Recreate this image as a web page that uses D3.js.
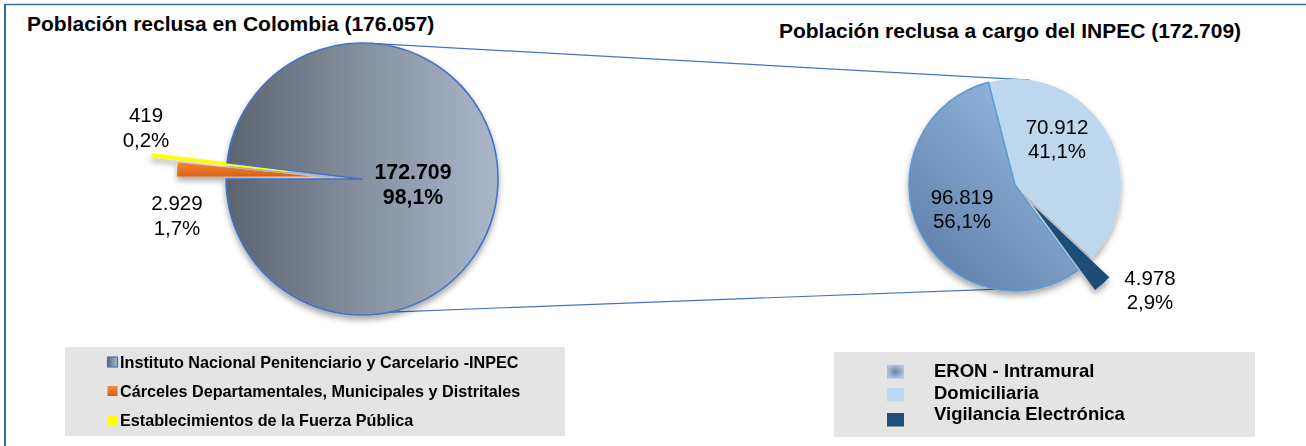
<!DOCTYPE html>
<html>
<head>
<meta charset="utf-8">
<script src="https://cdn.jsdelivr.net/npm/d3@7"></script>
<style>
  body { margin: 0; background: #fff; }
  svg { display: block; font-family: "Liberation Sans", Arial, sans-serif; }
</style>
</head>
<body>
<svg id="chart" width="1306" height="446"></svg>
<script>
// data
var leftCategories = ["Cárceles Departamentales, Municipales y Distritales", "Establecimientos de la Fuerza Pública", "Instituto Nacional Penitenciario y Carcelario -INPEC"];
var leftValues = [2929, 419, 172709];
var leftTotal = 176057;

var rightCategories = ["Domiciliaria", "Vigilancia Electrónica", "ERON - Intramural"];
var rightValues = [70912, 4978, 96819];
var rightTotal = 172709;

var leftLegendOrder = [2, 0, 1];
var rightLegendOrder = [2, 0, 1];

var es = d3.formatLocale({decimal: ",", thousands: ".", grouping: [3], currency: ["$", ""]});
var fmtNum = es.format(",d"),
    fmtPct = es.format(".1%");

var svg = d3.select("#chart");
var defs = svg.append("defs");

var rad = Math.PI / 180;

// gradients
var g1 = defs.append("linearGradient").attr("id", "gInpec")
  .attr("x1", "0").attr("y1", "0").attr("x2", "1").attr("y2", "0");
g1.append("stop").attr("offset", "0").attr("stop-color", "#5c6370");
g1.append("stop").attr("offset", "0.5").attr("stop-color", "#8590a0");
g1.append("stop").attr("offset", "1").attr("stop-color", "#aab7ca");

var g2 = defs.append("linearGradient").attr("id", "gEron")
  .attr("x1", "0.15").attr("y1", "0.95").attr("x2", "0.8").attr("y2", "0.15");
g2.append("stop").attr("offset", "0").attr("stop-color", "#5f7fa8");
g2.append("stop").attr("offset", "1").attr("stop-color", "#93b6dc");

var g3 = defs.append("linearGradient").attr("id", "gOrange")
  .attr("x1", "0").attr("y1", "0").attr("x2", "0").attr("y2", "1");
g3.append("stop").attr("offset", "0").attr("stop-color", "#f28a3c");
g3.append("stop").attr("offset", "1").attr("stop-color", "#d9600f");

var rg = defs.append("radialGradient").attr("id", "gEronKey");
rg.append("stop").attr("offset", "0").attr("stop-color", "#6f7f96");
rg.append("stop").attr("offset", "1").attr("stop-color", "#a9c3e0");

var sh = defs.append("filter").attr("id", "shadow")
  .attr("x", "-20%").attr("y", "-20%").attr("width", "140%").attr("height", "150%");
sh.append("feDropShadow").attr("dx", 0).attr("dy", 4).attr("stdDeviation", 3)
  .attr("flood-color", "#000").attr("flood-opacity", 0.35);

// frame
svg.append("line").attr("x1", 5).attr("y1", 4).attr("x2", 5).attr("y2", 446)
  .attr("stroke", "#3f6b98").attr("stroke-width", 2);
svg.append("line").attr("x1", 4).attr("y1", 4.5).attr("x2", 1306).attr("y2", 4.5)
  .attr("stroke", "#3f6b98").attr("stroke-width", 1.5);

// titles
svg.append("text").attr("x", 27).attr("y", 31)
  .attr("font-size", 21).attr("font-weight", "bold").attr("fill", "#000")
  .text("Población reclusa en Colombia (" + fmtNum(leftTotal) + ")");
svg.append("text").attr("x", 1010).attr("y", 38).attr("text-anchor", "middle")
  .attr("font-size", 21).attr("font-weight", "bold").attr("fill", "#000")
  .text("Población reclusa a cargo del INPEC (" + fmtNum(rightTotal) + ")");

// left pie
var lc = [362, 179], lr = 136;
var rc = [1015, 185], rr = 106;

// connector lines
function onCircle(c, r, deg) {
  return [c[0] + r * Math.sin(deg * rad), c[1] - r * Math.cos(deg * rad)];
}
var conn = [[onCircle(lc, lr, 4), onCircle(rc, rr, 8)], [onCircle(lc, lr, 168), onCircle(rc, rr, 165)]];
svg.selectAll(".conn").data(conn).enter().append("line")
  .attr("class", "conn")
  .attr("x1", function(d) { return d[0][0]; }).attr("y1", function(d) { return d[0][1]; })
  .attr("x2", function(d) { return d[1][0]; }).attr("y2", function(d) { return d[1][1]; })
  .attr("stroke", "#4472c4").attr("stroke-width", 1.2);

var leftFill = ["url(#gOrange)", "#ffff00", "url(#gInpec)"];
var leftStroke = ["none", "#ffff00", "#4472c4"];
var leftExplode = [49, 75, 0];

var pieL = d3.pie().sort(null).startAngle(270 * rad).endAngle(630 * rad);
var arcL = d3.arc().innerRadius(0).outerRadius(lr);
var leftArcs = pieL(leftValues);

var gl = svg.append("g").attr("transform", "translate(" + lc + ")").attr("filter", "url(#shadow)");
gl.selectAll("path").data(leftArcs).enter().append("path")
  .attr("d", arcL)
  .attr("fill", function(d, i) { return leftFill[i]; })
  .attr("stroke", function(d, i) { return leftStroke[i]; })
  .attr("stroke-width", function(d, i) { return i === 1 ? 2.2 : 1.6; })
  .attr("stroke-linejoin", "round")
  .attr("transform", function(d, i) {
    var a = (d.startAngle + d.endAngle) / 2;
    return "translate(" + (leftExplode[i] * Math.sin(a)) + "," + (-leftExplode[i] * Math.cos(a)) + ")";
  });

// left labels (positions relative to pie centre)
var leftLabelPos = [[-185, 31], [-216, -57], [51, 0]];
var leftLabelBold = [false, false, true];
leftArcs.forEach(function(d, i) {
  var t = svg.append("text")
    .attr("x", lc[0] + leftLabelPos[i][0]).attr("y", lc[1] + leftLabelPos[i][1])
    .attr("text-anchor", "middle").attr("font-size", leftLabelBold[i] ? 21.3 : 20.5)
    .attr("font-weight", leftLabelBold[i] ? "bold" : "normal").attr("fill", "#000");
  t.append("tspan").attr("x", lc[0] + leftLabelPos[i][0]).attr("dy", 0).text(fmtNum(d.data));
  t.append("tspan").attr("x", lc[0] + leftLabelPos[i][0]).attr("dy", 24.5).text(fmtPct(d.data / leftTotal));
});

// right pie
var rightFill = ["#bdd7ee", "#1f4e79", "url(#gEron)"];
var rightStroke = ["none", "none", "#5b9bd5"];
var rightExplode = [0, 26, 0];

var pieR = d3.pie().sort(null).startAngle(-14.5 * rad).endAngle(345.5 * rad);
var arcR = d3.arc().innerRadius(0).outerRadius(rr);
var rightArcs = pieR(rightValues);

var gr = svg.append("g").attr("transform", "translate(" + rc + ")").attr("filter", "url(#shadow)");
gr.selectAll("path").data(rightArcs).enter().append("path")
  .attr("d", arcR)
  .attr("fill", function(d, i) { return rightFill[i]; })
  .attr("stroke", function(d, i) { return rightStroke[i]; })
  .attr("stroke-width", 1.6)
  .attr("transform", function(d, i) {
    var a = (d.startAngle + d.endAngle) / 2;
    return "translate(" + (rightExplode[i] * Math.sin(a)) + "," + (-rightExplode[i] * Math.cos(a)) + ")";
  });

var rightLabelPos = [[42, -51], [135, 100], [-53, 19]];
rightArcs.forEach(function(d, i) {
  var t = svg.append("text")
    .attr("x", rc[0] + rightLabelPos[i][0]).attr("y", rc[1] + rightLabelPos[i][1])
    .attr("text-anchor", "middle").attr("font-size", 20.5).attr("fill", "#000");
  t.append("tspan").attr("x", rc[0] + rightLabelPos[i][0]).attr("dy", 0).text(fmtNum(d.data));
  t.append("tspan").attr("x", rc[0] + rightLabelPos[i][0]).attr("dy", 24).text(fmtPct(d.data / rightTotal));
});

// left legend
var legL = svg.append("g");
legL.append("rect").attr("x", 65).attr("y", 347).attr("width", 500).attr("height", 89).attr("fill", "#e4e4e4");
var legLKey = ["url(#gInpec)", "url(#gOrange)", "#ffff00"];
var legLKeyStroke = ["#4472c4", "none", "none"];
var yL = d3.scalePoint().domain(d3.range(3)).range([362, 420]);
leftLegendOrder.forEach(function(idx, j) {
  legL.append("rect").attr("x", 107.5).attr("y", yL(j) - 5).attr("width", 10).attr("height", 10)
    .attr("fill", legLKey[j]).attr("stroke", legLKeyStroke[j]).attr("stroke-width", 1.2);
  legL.append("text").attr("x", 120).attr("y", yL(j) + 6)
    .attr("font-size", 16.2).attr("font-weight", "bold").attr("fill", "#000")
    .text(leftCategories[idx]);
});

// right legend
var legR = svg.append("g");
legR.append("rect").attr("x", 834).attr("y", 352).attr("width", 421).attr("height", 85).attr("fill", "#e4e4e4");
var legRKey = ["url(#gEronKey)", "#bdd7ee", "#1f4e79"];
var keyY = [365, 388, 413];
var textY = [377, 399, 420];
rightLegendOrder.forEach(function(idx, j) {
  legR.append("rect").attr("x", 887).attr("y", keyY[j]).attr("width", 17).attr("height", 13.5)
    .attr("fill", legRKey[j]);
  legR.append("text").attr("x", 934).attr("y", textY[j])
    .attr("font-size", 18.5).attr("font-weight", "bold").attr("fill", "#000")
    .text(rightCategories[idx]);
});
</script>
</body>
</html>
